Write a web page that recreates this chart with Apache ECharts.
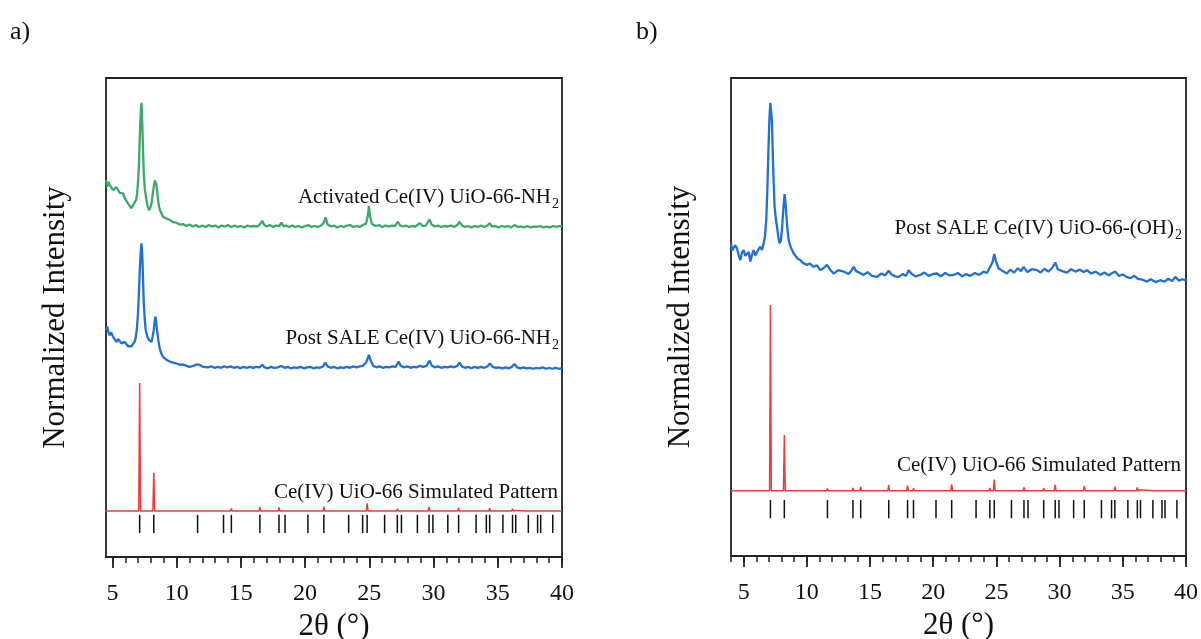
<!DOCTYPE html>
<html>
<head>
<meta charset="utf-8">
<script src="https://cdn.jsdelivr.net/npm/echarts@6/dist/echarts.min.js"></script>
<style>
html,body{margin:0;padding:0;background:#fff;}
#chart{width:1201px;height:639px;}
</style>
</head>
<body>
<div id="chart"></div>
<script>
// ---------------- DATA ----------------
// 2θ tick labels
const majorTicks = [5, 10, 15, 20, 25, 30, 35, 40];
const minorTicks = [4,5,6,7,8,9,10,11,12,13,14,15,16,17,18,19,20,21,22,23,24,25,26,27,28,29,30,31,32,33,34,35,36,37,38,39,40];

// Panel a) – Activated Ce(IV) UiO-66-NH2  [2θ, intensity (a.u., stacked)]
const activatedNH2 = [
[4.5,78.7],[4.6,77.3],[4.7,78.3],[4.8,77.6],[4.92,78.0],[5.05,76.6],[5.18,76.3],[5.3,77.2],[5.44,77.0],[5.57,76.0],
[5.7,75.6],[5.83,75.9],[5.96,74.9],[6.1,74.3],[6.22,73.8],[6.35,73.3],[6.48,72.8],[6.6,73.4],[6.74,73.8],[6.85,74.6],
[6.92,75.9],[7.0,78.5],[7.07,82.2],[7.13,87.5],[7.18,91.2],[7.23,94.0],[7.26,94.8],[7.3,92.5],[7.34,89.1],[7.39,84.5],
[7.44,80.1],[7.52,76.8],[7.65,74.5],[7.75,73.1],[7.85,72.4],[7.95,72.9],[8.04,73.8],[8.13,75.6],[8.22,77.3],[8.3,78.6],
[8.35,78.9],[8.41,77.9],[8.47,76.6],[8.55,74.6],[8.63,73.1],[8.72,72.3],[8.81,71.8],[8.94,71.0],[9.07,70.7],[9.25,70.6],
[9.46,70.4],[9.7,69.9],[9.98,69.8],[10.25,69.4],[10.5,69.5],[10.75,69.1],[11.0,69.4],[11.25,69.0],[11.5,69.3],[11.75,68.9],
[12.0,69.2],[12.25,68.9],[12.5,69.3],[12.75,69.0],[13.0,69.2],[13.25,68.8],[13.5,69.2],[13.75,69.0],[14.0,69.3],[14.25,68.9],
[14.5,69.2],[14.75,68.9],[15.0,69.1],[15.25,68.8],[15.5,69.2],[15.75,69.0],[16.0,69.1],[16.3,69.0],[16.5,69.5],[16.66,70.2],
[16.8,69.4],[17.0,69.0],[17.25,69.3],[17.5,68.9],[17.75,69.2],[18.0,69.1],[18.15,69.8],[18.3,69.1],[18.5,69.2],[18.75,68.9],
[19.0,69.2],[19.25,68.9],[19.5,69.1],[19.75,68.8],[20.0,69.1],[20.25,69.3],[20.5,68.9],[20.75,69.1],[21.0,68.9],[21.25,69.2],
[21.45,69.8],[21.6,70.9],[21.75,69.4],[22.0,69.0],[22.25,69.2],[22.5,68.8],[22.75,69.1],[23.0,68.9],[23.25,69.2],[23.5,69.3],
[23.75,68.9],[24.0,69.1],[24.25,68.9],[24.5,69.3],[24.75,69.6],[24.9,71.5],[24.97,73.3],[25.05,71.2],[25.2,69.5],[25.5,69.1],
[25.75,69.3],[26.0,68.9],[26.25,69.2],[26.5,69.0],[26.75,69.2],[27.0,69.1],[27.23,70.0],[27.4,69.2],[27.6,69.0],[27.85,69.2],
[28.1,68.9],[28.35,69.1],[28.6,69.0],[28.92,69.7],[29.15,69.1],[29.4,69.2],[29.69,70.5],[29.85,69.4],[30.1,69.0],[30.35,69.2],
[30.6,68.9],[30.85,69.1],[31.1,69.0],[31.35,69.2],[31.6,68.9],[31.85,69.3],[32.03,70.0],[32.2,69.2],[32.45,68.9],[32.7,69.1],
[32.95,68.8],[33.2,69.1],[33.45,68.9],[33.7,69.2],[33.95,68.9],[34.2,69.2],[34.36,69.7],[34.55,69.0],[34.8,69.1],[35.05,68.8],
[35.3,69.1],[35.55,68.9],[35.8,69.1],[36.05,68.8],[36.3,69.3],[36.55,68.9],[36.8,69.0],[37.05,68.8],[37.3,69.1],[37.55,68.8],
[37.8,69.0],[38.05,68.9],[38.3,69.1],[38.55,68.8],[38.8,69.0],[39.05,68.8],[39.3,69.1],[39.55,68.9],[39.8,69.1],[40.0,69.0]
];

// Panel a) – Post SALE Ce(IV) UiO-66-NH2
const postSaleNH2 = [
[4.5,47.4],[4.6,48.1],[4.7,46.8],[4.79,46.3],[4.9,46.9],[5.05,46.0],[5.18,45.6],[5.31,44.9],[5.44,45.5],[5.57,45.3],
[5.7,44.6],[5.83,44.3],[5.96,44.9],[6.09,44.6],[6.22,44.0],[6.35,43.6],[6.48,44.0],[6.6,44.3],[6.72,44.9],[6.81,45.7],
[6.9,47.5],[6.99,50.9],[7.06,55.0],[7.13,59.9],[7.2,63.5],[7.26,65.5],[7.3,64.2],[7.34,62.0],[7.39,57.5],[7.44,53.0],
[7.52,49.5],[7.59,47.4],[7.72,46.0],[7.85,45.3],[7.95,44.9],[8.04,44.9],[8.13,46.0],[8.22,47.4],[8.3,49.5],[8.35,50.2],
[8.41,49.0],[8.47,47.4],[8.57,45.3],[8.68,43.6],[8.8,42.5],[8.94,41.8],[9.2,41.2],[9.46,40.8],[9.72,40.6],[9.98,40.4],
[10.3,40.1],[10.5,40.2],[10.76,39.9],[11.0,39.7],[11.3,39.9],[11.55,40.2],[11.8,40.1],[12.05,39.7],[12.44,39.6],[12.7,39.8],
[12.95,39.5],[13.2,39.7],[13.45,39.5],[13.7,39.8],[13.95,39.6],[14.2,39.8],[14.45,39.5],[14.7,39.7],[14.95,39.4],[15.2,39.7],
[15.45,39.5],[15.7,39.7],[15.95,39.5],[16.2,39.7],[16.45,39.6],[16.66,40.1],[16.85,39.6],[17.1,39.4],[17.35,39.7],[17.6,39.5],
[17.9,39.6],[18.15,39.9],[18.4,39.5],[18.65,39.7],[18.9,39.4],[19.15,39.6],[19.4,39.5],[19.65,39.7],[19.9,39.4],[20.15,39.6],
[20.4,39.7],[20.65,39.4],[20.9,39.6],[21.15,39.5],[21.4,39.8],[21.57,40.6],[21.75,39.8],[22.0,39.5],[22.25,39.7],[22.5,39.4],
[22.75,39.6],[23.0,39.5],[23.25,39.7],[23.5,39.5],[23.75,39.8],[24.0,39.6],[24.25,39.8],[24.5,39.9],[24.75,40.6],[24.97,42.2],
[25.1,41.0],[25.3,39.9],[25.55,39.6],[25.8,39.8],[26.05,39.5],[26.3,39.7],[26.55,39.6],[26.8,39.8],[27.05,39.7],[27.28,40.8],
[27.45,39.9],[27.7,39.6],[27.95,39.8],[28.2,39.5],[28.45,39.7],[28.7,39.6],[28.95,39.9],[29.2,39.7],[29.45,39.9],[29.69,41.0],
[29.85,40.0],[30.1,39.6],[30.35,39.8],[30.6,39.5],[30.85,39.7],[31.1,39.6],[31.35,39.8],[31.6,39.6],[31.85,39.9],[32.03,40.6],
[32.2,39.8],[32.45,39.5],[32.7,39.7],[32.95,39.4],[33.2,39.7],[33.45,39.5],[33.7,39.7],[33.95,39.5],[34.2,39.8],[34.4,40.4],
[34.6,39.7],[34.85,39.5],[35.1,39.6],[35.35,39.4],[35.6,39.6],[35.85,39.4],[36.1,39.7],[36.3,40.3],[36.5,39.6],[36.75,39.4],
[37.0,39.6],[37.25,39.4],[37.5,39.5],[37.75,39.3],[38.0,39.5],[38.25,39.4],[38.5,39.6],[38.75,39.3],[39.0,39.5],[39.25,39.3],
[39.5,39.5],[39.75,39.3],[40.0,39.4]
];

// Panel b) – Post SALE Ce(IV) UiO-66-(OH)2
const postSaleOH2 = [
[4.0,65.4],[4.1,63.9],[4.21,63.7],[4.33,65.0],[4.47,64.4],[4.6,63.0],[4.74,61.9],[4.87,63.5],[5.0,64.0],[5.13,62.8],
[5.27,62.6],[5.4,63.6],[5.53,61.6],[5.66,63.0],[5.79,64.0],[5.92,62.9],[6.06,63.0],[6.19,64.2],[6.32,64.7],[6.45,64.0],
[6.58,65.4],[6.68,66.8],[6.79,70.3],[6.88,77.0],[6.97,85.6],[7.04,91.5],[7.11,94.8],[7.19,94.8],[7.24,91.0],[7.29,85.6],
[7.37,78.5],[7.45,73.1],[7.55,70.5],[7.64,68.9],[7.74,66.8],[7.84,65.4],[7.94,66.0],[8.03,68.2],[8.14,72.5],[8.24,75.7],
[8.3,74.3],[8.37,71.7],[8.46,68.5],[8.56,66.1],[8.7,64.8],[8.83,64.0],[8.96,63.3],[9.09,63.0],[9.28,62.2],[9.48,61.9],
[9.7,61.3],[10.0,60.9],[10.25,61.2],[10.53,60.5],[10.8,60.8],[11.06,59.8],[11.35,60.3],[11.59,60.9],[11.85,59.9],[12.12,59.1],
[12.5,59.8],[12.91,59.5],[13.3,59.0],[13.55,59.8],[13.7,60.5],[13.9,59.6],[14.2,59.2],[14.49,58.8],[14.8,59.4],[15.15,58.6],
[15.55,58.4],[15.9,59.1],[16.2,58.7],[16.47,59.7],[16.7,58.9],[17.0,58.5],[17.26,58.4],[17.6,59.0],[17.85,58.6],[18.05,59.8],
[18.3,59.0],[18.6,58.5],[18.98,58.8],[19.3,59.3],[19.65,58.6],[20.0,59.0],[20.3,59.1],[20.6,58.5],[20.95,59.2],[21.3,58.7],
[21.61,58.8],[21.95,59.2],[22.3,58.5],[22.6,59.0],[22.93,58.6],[23.3,59.2],[23.65,58.8],[23.98,59.5],[24.25,59.2],[24.51,60.5],
[24.7,61.5],[24.83,63.2],[24.95,61.8],[25.17,60.2],[25.5,59.6],[25.83,59.1],[26.1,59.9],[26.4,59.3],[26.7,60.2],[26.95,59.6],
[27.15,60.5],[27.45,59.4],[27.8,60.0],[28.21,59.8],[28.5,59.3],[28.8,60.1],[29.1,59.5],[29.4,60.2],[29.66,61.4],[29.85,60.0],
[30.2,59.6],[30.58,59.3],[30.9,60.0],[31.25,59.5],[31.6,59.9],[31.9,59.4],[32.16,59.8],[32.5,59.1],[32.85,59.5],[33.22,58.8],
[33.55,59.3],[33.9,58.7],[34.15,59.2],[34.4,59.5],[34.7,58.6],[35.0,58.9],[35.3,58.4],[35.59,58.1],[35.9,58.6],[36.2,58.0],
[36.55,57.8],[36.91,57.4],[37.2,57.9],[37.6,57.3],[37.96,57.7],[38.3,57.4],[38.6,58.0],[38.9,57.5],[39.15,58.4],[39.45,57.6],
[39.7,57.9],[39.94,57.7],[40.0,57.9]
];

// Ce(IV) UiO-66 simulated pattern [2θ, relative intensity %]
const simulatedPattern = [
[4.0,0],[7.05,0],[7.12,100],[7.19,0],[8.15,0],[8.22,30],[8.29,0],[11.56,0],[11.63,1.2],[11.70,0],
[13.58,0],[13.65,1.5],[13.72,0],[14.19,0],[14.26,2],[14.33,0],[16.41,0],[16.48,3],[16.55,0],
[17.90,0],[17.97,2.8],[18.04,0],[18.37,0],[18.44,1.3],[18.51,0],[20.15,0],[20.22,1],[20.29,0],
[21.39,0],[21.46,3.4],[21.53,0],[23.32,0],[23.39,0.7],[23.46,0],[24.41,0],[24.48,1.4],[24.55,0],
[24.76,0],[24.83,6],[24.90,0],[26.12,0],[26.19,0.4],[26.26,0],[27.11,0],[27.18,1.8],[27.25,0],
[27.43,0],[27.50,0.5],[27.57,0],[28.67,0],[28.74,1.3],[28.81,0],[29.58,0],[29.65,3.2],[29.72,0],
[29.88,0],[29.95,0.7],[30.02,0],[31.04,0],[31.11,0.9],[31.18,0],[31.88,0],[31.95,2.5],[32.02,0],
[33.24,0],[33.31,0.9],[33.38,0],[34.04,0],[34.11,0.5],[34.18,0],[34.30,0],[34.37,2.2],[34.44,0],
[35.33,0],[35.40,0.4],[35.47,0],[36.08,0],[36.15,1.8],[36.22,0],[36.33,0],[36.40,0.5],[36.47,0],
[37.31,0],[37.38,0.7],[37.45,0],[38.03,0],[38.10,0.4],[38.17,0],[38.27,0],[38.34,0.9],[38.41,0],
[39.21,0],[39.28,0.6],[39.35,0],[40.0,0]
];

// Bragg reflection positions (2θ) shown as black ticks
const braggPositions = [7.12, 8.22, 11.63, 13.65, 14.26, 16.48, 17.97, 18.44, 20.22, 21.46, 23.39, 24.48, 24.83,
  26.19, 27.18, 27.50, 28.74, 29.65, 29.95, 31.11, 31.95, 33.31, 34.11, 34.37, 35.40, 36.15, 36.40,
  37.38, 38.10, 38.34, 39.28];

// Labels (subscript "2" appended where present)
const labelsA = ['Activated Ce(IV) UiO-66-NH', 'Post SALE Ce(IV) UiO-66-NH', 'Ce(IV) UiO-66 Simulated Pattern'];
const labelsB = ['Post SALE Ce(IV) UiO-66-(OH)', 'Ce(IV) UiO-66 Simulated Pattern'];
const subscripts = ['2', '2', '', '2', ''];

// ---------------- CHART ----------------
const FONT = "'Liberation Serif','Times New Roman',serif";
const GREEN = '#3aa96b', BLUE = '#2070dc', RED = '#ee3c3c', AXIS = '#222';

const panels = [
  {left: 106, top: 78, width: 456, height: 479, xmin: 4.5, simBase: 9.6, simScale: 0.267, tick: [5.0, 8.8]},
  {left: 731, top: 78, width: 455, height: 478, xmin: 4.0, simBase: 13.66, simScale: 0.3885, tick: [7.9, 11.7]}
];

const grids = panels.map(p => ({
  left: p.left, top: p.top, width: p.width, height: p.height,
  outerBoundsMode: 'none', containLabel: false,
  show: true, borderColor: AXIS, borderWidth: 1.8, backgroundColor: 'transparent'
}));

const xAxes = [];
panels.forEach((p, i) => {
  xAxes.push({
    type: 'value', gridIndex: i, position: 'bottom', min: p.xmin, max: 40,
    axisLine: {show: true, lineStyle: {color: AXIS, width: 1.8}},
    axisTick: {show: true, customValues: majorTicks, length: 11, lineStyle: {color: AXIS, width: 1.8}},
    axisLabel: {show: true, customValues: majorTicks, margin: 25, fontFamily: FONT, fontSize: 24, color: '#111'},
    splitLine: {show: false},
    name: '2θ (°)', nameLocation: 'middle', nameGap: 46,
    nameTextStyle: {fontFamily: FONT, fontSize: 31, color: '#111'}
  });
  xAxes.push({
    type: 'value', gridIndex: i, position: 'bottom', min: p.xmin, max: 40,
    axisLine: {show: false},
    axisTick: {show: true, customValues: minorTicks, length: 6, lineStyle: {color: AXIS, width: 1.5}},
    axisLabel: {show: false},
    splitLine: {show: false}
  });
});

const yAxes = panels.map((p, i) => ({
  type: 'value', gridIndex: i, min: 0, max: 100,
  axisLine: {show: false}, axisTick: {show: false}, axisLabel: {show: false}, splitLine: {show: false},
  name: 'Normalized Intensity', nameLocation: 'middle', nameGap: 35,
  nameTextStyle: {fontFamily: FONT, fontSize: 31, color: '#111'}
}));

function lineSeries(data, xi, yi, color, width) {
  return {
    type: 'line', xAxisIndex: xi, yAxisIndex: yi, data: data, showSymbol: false, symbol: 'none',
    lineStyle: {color: color, width: width}, animation: false, silent: true, clip: true
  };
}
function simSeries(p, xi, yi) {
  return lineSeries(simulatedPattern.map(d => [d[0], p.simBase + d[1] * p.simScale]), xi, yi, RED, 1.5);
}
function braggSeries(p, xi, yi) {
  return {
    type: 'custom', xAxisIndex: xi, yAxisIndex: yi, animation: false, silent: true,
    data: braggPositions.map(v => [v]),
    encode: {x: 0},
    renderItem: function (params, api) {
      const a = api.coord([api.value(0), p.tick[0]]);
      const b = api.coord([api.value(0), p.tick[1]]);
      return {type: 'line', shape: {x1: a[0], y1: a[1], x2: b[0], y2: b[1]},
        style: {stroke: '#111', lineWidth: 1.5}};
    }
  };
}

const series = [
  lineSeries(activatedNH2, 0, 0, GREEN, 2.3),
  lineSeries(postSaleNH2, 0, 0, BLUE, 2.3),
  simSeries(panels[0], 0, 0),
  braggSeries(panels[0], 0, 0),
  lineSeries(postSaleOH2, 2, 1, BLUE, 2.3),
  simSeries(panels[1], 2, 1),
  braggSeries(panels[1], 2, 1)
];

// Annotation text: main text right-aligned, optional subscript drawn just after it
function label(text, sub, x, y) {
  const els = [];
  const subW = sub ? 8 : 0;
  els.push({
    type: 'text', x: x - subW, y: y, silent: true,
    style: {text: text, font: '21px ' + FONT, fill: '#111', textAlign: 'right', textVerticalAlign: 'top'}
  });
  if (sub) {
    els.push({
      type: 'text', x: x - subW + 1, y: y + 10, silent: true,
      style: {text: sub, font: '14px ' + FONT, fill: '#111', textAlign: 'left', textVerticalAlign: 'top'}
    });
  }
  return els;
}

const graphic = [
  {type: 'text', x: 10, y: 19, style: {text: 'a)', font: '26px ' + FONT, fill: '#111'}},
  {type: 'text', x: 636, y: 19, style: {text: 'b)', font: '26px ' + FONT, fill: '#111'}}
].concat(
  label(labelsA[0], subscripts[0], 559, 187),
  label(labelsA[1], subscripts[1], 559, 328),
  label(labelsA[2], subscripts[2], 558, 482),
  label(labelsB[0], subscripts[3], 1182, 218),
  label(labelsB[1], subscripts[4], 1181, 455)
);

const chart = echarts.init(document.getElementById('chart'), null, {renderer: 'canvas'});
chart.setOption({
  backgroundColor: '#fff',
  animation: false,
  grid: grids,
  xAxis: xAxes,
  yAxis: yAxes,
  series: series,
  graphic: graphic
});
</script>
</body>
</html>
